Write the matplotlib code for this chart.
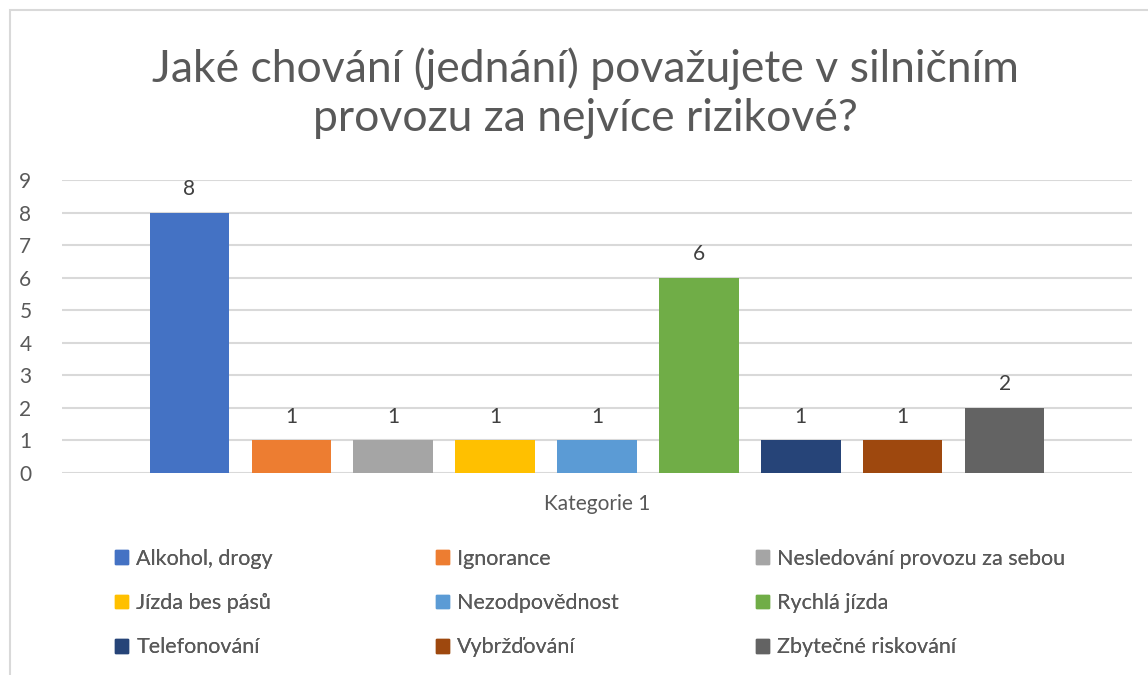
import matplotlib.pyplot as plt
from matplotlib.patches import Rectangle

# data
labels = ['Alkohol, drogy', 'Ignorance', 'Nesledování provozu za sebou',
          'Jízda bes pásů', 'Nezodpovědnost', 'Rychlá jízda',
          'Telefonování', 'Vybržďování', 'Zbytečné riskování']
values = [8, 1, 1, 1, 1, 6, 1, 1, 2]
colors = ['#4472C4', '#ED7D31', '#A5A5A5', '#FFC000', '#5B9BD5',
          '#70AD47', '#264478', '#9E480E', '#636363']
category = 'Kategorie 1'
title = 'Jaké chování (jednání) považujete v silničním\nprovozu za nejvíce rizikové?'

plt.rcParams['font.family'] = ['Lato', 'DejaVu Sans']
txt = '#595959'

fig = plt.figure(figsize=(11.48, 6.75), dpi=100)
fig.patches.append(Rectangle((10/1148, -0.05), 1.2, 1 - 10/675 + 0.05,
                             transform=fig.transFigure, fill=False,
                             edgecolor='#D9D9D9', lw=1.5))

ax = fig.add_axes([62/1148, 1 - 473/675, (1132 - 62)/1148, (473 - 180)/675])
x = list(range(len(values)))
bars = ax.bar(x, values, width=0.78, color=colors, zorder=3)
for xi, v in zip(x, values):
    ax.annotate(str(v), (xi, v), xytext=(0, 10), textcoords='offset points',
                ha='center', va='bottom', fontsize=15, color='#404040')

ax.set_xlim(-1.25, 9.25)
ax.set_ylim(0, 9)
ax.set_yticks(range(10))
ax.set_xticks([4])
ax.set_xticklabels([category])
ax.tick_params(length=0, labelsize=15, colors=txt)
ax.tick_params(axis='x', pad=15)
ax.tick_params(axis='y', pad=22)
ax.grid(axis='y', color='#D9D9D9', lw=1.5, zorder=0)
for s in ax.spines.values():
    s.set_visible(False)

fig.text(585/1148, 1 - 93/675, title, ha='center', va='center',
         fontsize=32, color=txt, linespacing=1.25)

# legend, three columns placed separately
col_x = [104/1148, 425/1148, 745/1148]
for c in range(3):
    idx = [c, c + 3, c + 6]
    handles = [Rectangle((0, 0), 1, 1, color=colors[i]) for i in idx]
    leg = fig.legend(handles, [labels[i] for i in idx], loc='upper left',
                     bbox_to_anchor=(col_x[c], 1 - 538/675), frameon=False,
                     fontsize=15.5, handlelength=0.6, handleheight=0.6,
                     handletextpad=0.4, labelspacing=1.13, borderpad=0,
                     labelcolor=txt)
    fig.add_artist(leg)

fig.savefig('out.png', dpi=100)
